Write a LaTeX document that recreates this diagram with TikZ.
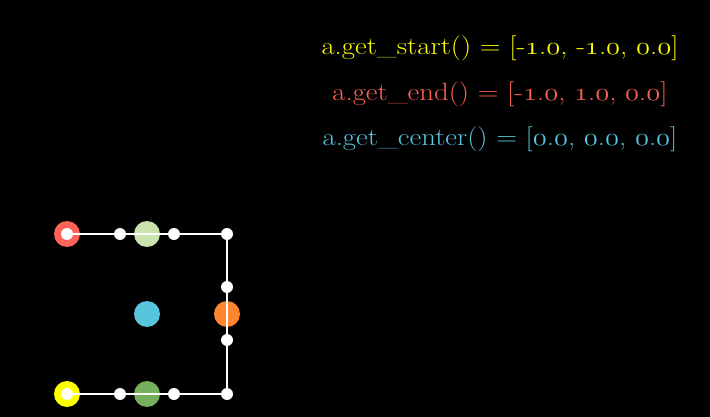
\documentclass[tikz,border=0pt]{standalone}
\usepackage{fontspec}
\usepackage{graphicx}
\definecolor{myyellow}{HTML}{FFFF00}
\definecolor{myred}{HTML}{FC6255}
\definecolor{mycyan}{HTML}{58C4DD}
\definecolor{mylgreen}{HTML}{C9E2AE}
\definecolor{mygreen}{HTML}{77B05D}
\definecolor{myorange}{HTML}{FF862F}
\newcommand\osn[1]{{\usefont{OML}{cmm}{m}{it}#1}}
\newcommand\lbltext[1]{\scalebox{1.15}[1]{#1}}
\begin{document}
\begin{tikzpicture}[x=1pt,y=-1pt,
  bigdot/.style={circle,minimum size=26pt,inner sep=0pt,fill=#1},
  wdot/.style={circle,minimum size=12pt,inner sep=0pt,fill=white},
  lbl/.style={font=\fontsize{25}{29}\selectfont,text=#1,inner sep=0pt,anchor=base},
  pathline/.style={white,line width=2.6pt}]
\fill[black] (0,0) rectangle (710,417);
\useasboundingbox (0,0) rectangle (710,417);
% big coloured dots
\node[bigdot=myred] (endd) at (67,234) {};
\node[bigdot=myyellow] (startd) at (67,394) {};
\node[bigdot=mylgreen] (tg) at (147,234) {};
\node[bigdot=mygreen] (bg) at (147,394) {};
\node[bigdot=mycyan] (cen) at (147,314) {};
\node[bigdot=myorange] (rd) at (227,314) {};
% path corners
\coordinate (p0) at (67,394);
\coordinate (p1) at (227,394);
\coordinate (p2) at (227,234);
\coordinate (p3) at (67,234);
\draw[pathline] (p0) -- (p1) -- (p2) -- (p3);
% white anchor dots
\node[wdot] (w0) at (67,394) {};
\node[wdot] (w1) at (120,394) {};
\node[wdot] (w2) at (174,394) {};
\node[wdot] (w3) at (227,394) {};
\node[wdot] (w4) at (227,340) {};
\node[wdot] (w5) at (227,287) {};
\node[wdot] (w6) at (227,234) {};
\node[wdot] (w7) at (174,234) {};
\node[wdot] (w8) at (120,234) {};
\node[wdot] (w9) at (67,234) {};
% labels
\node[lbl=myyellow] (t1) at (500,55) {\lbltext{a.get\_start() = [-\osn{1}.\osn{0}, -\osn{1}.\osn{0}, \osn{0}.\osn{0}]}};
\node[lbl=myred] (t2) at (500,101) {\lbltext{a.get\_end() = [-\osn{1}.\osn{0}, \osn{1}.\osn{0}, \osn{0}.\osn{0}]}};
\node[lbl=mycyan] (t3) at (500,146) {\lbltext{a.get\_center() = [\osn{0}.\osn{0}, \osn{0}.\osn{0}, \osn{0}.\osn{0}]}};
\end{tikzpicture}
\end{document}
